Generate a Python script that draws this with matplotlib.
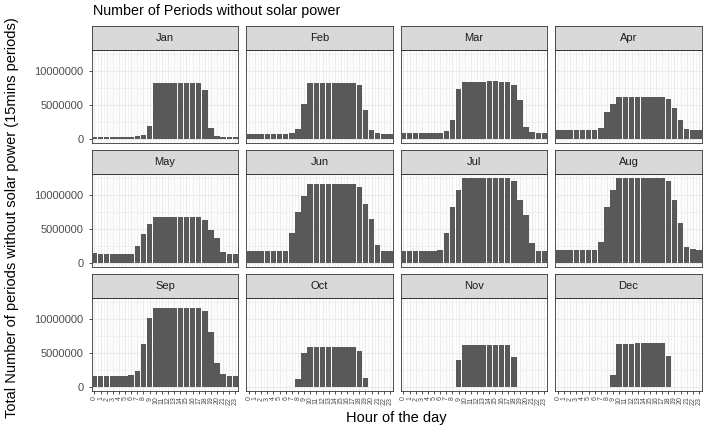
import matplotlib
matplotlib.use("Agg")
import matplotlib.pyplot as plt
from matplotlib.ticker import FixedLocator
import numpy as np

plt.rcParams['font.family'] = ['Liberation Sans', 'DejaVu Sans']

months = ["Jan", "Feb", "Mar", "Apr", "May", "Jun",
          "Jul", "Aug", "Sep", "Oct", "Nov", "Dec"]
hours = list(range(24))

# values in millions of 15-min periods
jan = [0.2, 0.2, 0.2, 0.2, 0.2, 0.25, 0.3, 0.45, 0.6, 1.9, 8.2, 8.2, 8.2, 8.2, 8.2, 8.2, 8.2, 8.2, 7.2, 1.6, 0.4, 0.3, 0.25, 0.25]
feb = [0.65, 0.65, 0.65, 0.65, 0.65, 0.65, 0.65, 0.85, 1.4, 5.2, 8.2, 8.2, 8.2, 8.2, 8.2, 8.2, 8.2, 8.2, 7.9, 4.2, 1.25, 0.85, 0.65, 0.65]
mar = [0.85, 0.85, 0.85, 0.85, 0.85, 0.85, 0.85, 1.1, 2.75, 7.3, 8.4, 8.4, 8.4, 8.4, 8.5, 8.5, 8.4, 8.4, 8.0, 5.8, 1.8, 0.95, 0.85, 0.85]
apr = [1.28, 1.28, 1.28, 1.28, 1.28, 1.28, 1.28, 1.65, 3.9, 5.2, 6.15, 6.15, 6.15, 6.15, 6.15, 6.15, 6.15, 6.15, 5.95, 4.6, 2.75, 1.4, 1.28, 1.28]
may = [1.38, 1.25, 1.25, 1.25, 1.25, 1.25, 1.35, 2.5, 4.3, 5.8, 6.7, 6.7, 6.7, 6.7, 6.7, 6.7, 6.7, 6.7, 6.35, 4.9, 3.7, 1.65, 1.25, 1.25]
jun = [1.8, 1.8, 1.8, 1.8, 1.8, 1.8, 1.8, 4.4, 7.5, 9.95, 11.6, 11.6, 11.6, 11.6, 11.7, 11.7, 11.7, 11.7, 11.2, 8.7, 6.5, 2.65, 1.8, 1.8]
jul = [1.8, 1.8, 1.8, 1.8, 1.8, 1.8, 1.95, 4.35, 8.2, 10.8, 12.55, 12.55, 12.55, 12.55, 12.55, 12.55, 12.55, 12.55, 12.05, 9.35, 7.0, 2.9, 1.8, 1.8]
aug = [1.95, 1.95, 1.95, 1.95, 1.95, 1.95, 1.95, 3.1, 8.2, 10.8, 12.55, 12.55, 12.55, 12.55, 12.55, 12.55, 12.55, 12.55, 12.05, 9.35, 5.9, 2.3, 2.0, 1.95]
sep = [1.65, 1.65, 1.55, 1.55, 1.55, 1.6, 1.7, 2.3, 6.3, 10.15, 11.7, 11.7, 11.7, 11.7, 11.7, 11.7, 11.7, 11.7, 11.2, 8.1, 3.5, 1.9, 1.65, 1.65]
oct_ = [0.03, 0.03, 0.03, 0.03, 0.03, 0.03, 0.03, 0.03, 1.1, 5.0, 5.85, 5.85, 5.85, 5.85, 5.85, 5.85, 5.85, 5.85, 5.3, 1.35, 0.03, 0.03, 0.03, 0.03]
nov = [0, 0, 0, 0, 0, 0, 0, 0, 0.03, 4.0, 6.2, 6.2, 6.2, 6.2, 6.2, 6.2, 6.2, 6.2, 4.35, 0.03, 0, 0, 0, 0]
dec = [0, 0, 0, 0, 0, 0, 0, 0, 0, 1.7, 6.3, 6.3, 6.35, 6.45, 6.45, 6.45, 6.45, 6.45, 4.5, 0.03, 0, 0, 0, 0]

series = [jan, feb, mar, apr, may, jun, jul, aug, sep, oct_, nov, dec]
y_ticks = [0, 5000000, 10000000]
y_ticklabels = ["0", "5000000", "10000000"]

W, H = 715, 428
fig = plt.figure(figsize=(W / 100, H / 100), dpi=100)
fig.patch.set_facecolor("white")

col_left0 = 91.7
col_step = 154.5
pw = 146.5
row_top0 = 49.7
row_step = 124.0
ph = 93.3
strip_h = 23.3

ymax = max(max(s) for s in series) * 1e6
ylo, yhi = -0.05 * ymax, 1.05 * ymax

border_c = "#333333"
grid_c = "#EBEBEB"

for idx, (m, vals) in enumerate(zip(months, series)):
    r, c = divmod(idx, 4)
    x0 = col_left0 + c * col_step
    y0 = row_top0 + r * row_step
    ax = fig.add_axes([x0 / W, (H - y0 - ph) / H, pw / W, ph / H])
    v = np.array(vals) * 1e6
    ax.bar(hours, v, width=0.9, color="#595959", zorder=3, linewidth=0)
    ax.set_xlim(-0.45, 23.45)
    ax.set_ylim(ylo, yhi)
    ax.xaxis.set_major_locator(FixedLocator(hours))
    ax.xaxis.set_minor_locator(FixedLocator([h + 0.5 for h in hours[:-1]]))
    ax.yaxis.set_major_locator(FixedLocator(y_ticks))
    ax.yaxis.set_minor_locator(FixedLocator([2500000, 7500000, 12500000]))
    ax.grid(which="major", color=grid_c, linewidth=0.8, zorder=0)
    ax.grid(which="minor", color=grid_c, linewidth=0.45, zorder=0)
    ax.set_axisbelow(True)
    for sp in ax.spines.values():
        sp.set_color(border_c)
        sp.set_linewidth(0.6)
    ax.tick_params(which="minor", length=0)
    ax.tick_params(which="major", length=2.5, width=0.6, color=border_c,
                   labelcolor="#4D4D4D")
    if c == 0:
        ax.set_yticklabels(y_ticklabels, fontsize=8)
    else:
        ax.tick_params(axis="y", left=False, labelleft=False)
    if r == 2:
        ax.set_xticklabels([str(h) for h in hours], rotation=90, fontsize=5,
                           va="top", ha="center")
        ax.tick_params(axis="x", pad=1.5)
    else:
        ax.tick_params(axis="x", bottom=False, labelbottom=False)

    # strip
    sax = fig.add_axes([x0 / W, (H - y0) / H, pw / W, strip_h / H])
    sax.set_facecolor("#D9D9D9")
    sax.set_xticks([])
    sax.set_yticks([])
    for sp in sax.spines.values():
        sp.set_color(border_c)
        sp.set_linewidth(0.6)
    sax.text(0.5, 0.5, m, ha="center", va="center", fontsize=8,
             color="#1A1A1A", transform=sax.transAxes)

fig.text(93 / W, 1 - 11 / H, "Number of Periods without solar power",
         ha="left", va="center", fontsize=10.3, color="black")
fig.text((col_left0 + 3 * col_step + pw + col_left0) / 2 / W, 1 - 418 / H,
         "Hour of the day", ha="center", va="center", fontsize=10.5)
fig.text(12 / W, 1 - 218 / H,
         "Total Number of periods without solar power (15mins periods)",
         ha="center", va="center", rotation=90, fontsize=10.5)

fig.savefig("out.png", dpi=100, facecolor="white")
